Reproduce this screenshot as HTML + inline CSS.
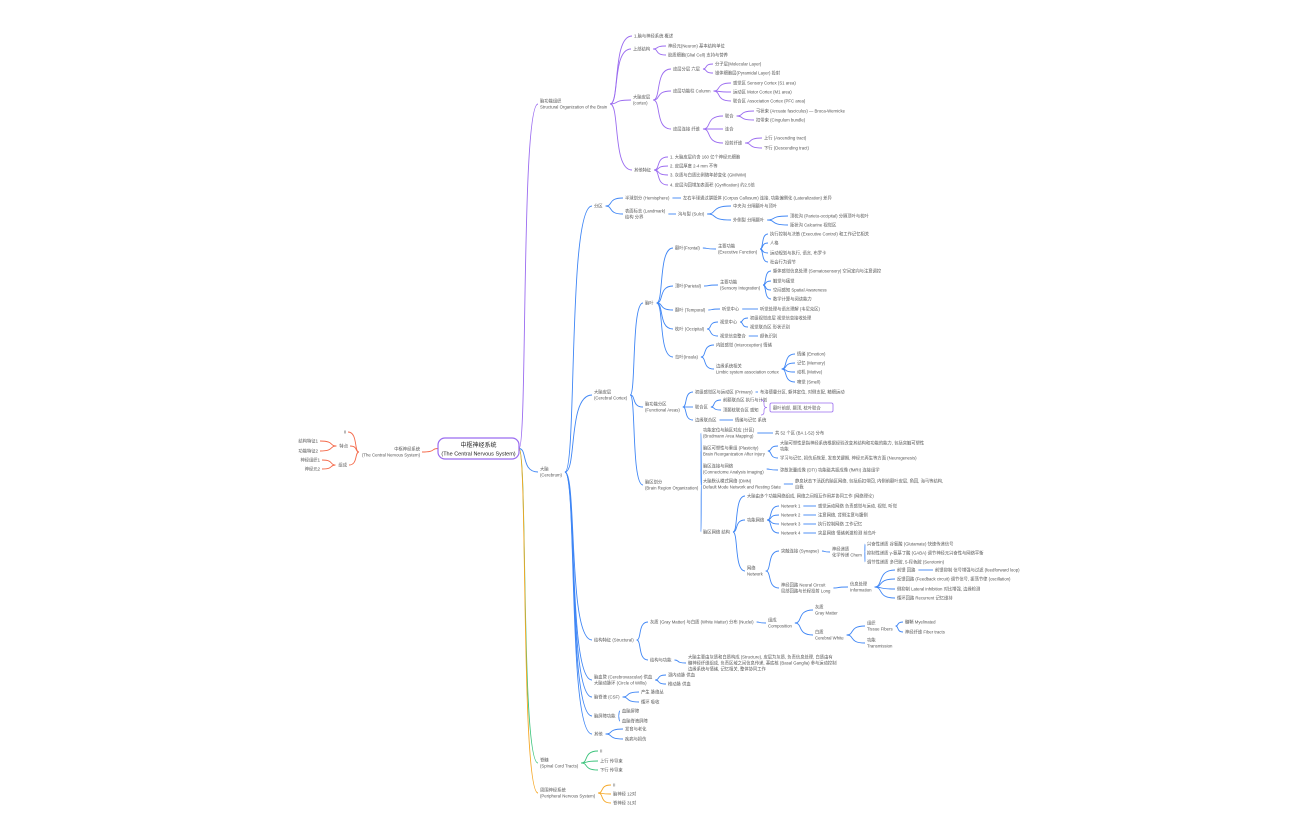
<!DOCTYPE html>
<html><head><meta charset="utf-8">
<style>
html,body{margin:0;padding:0;background:#fff;}
svg{display:block;}
text{font-family:"Liberation Sans","Noto Sans CJK SC",sans-serif;font-size:4.3px;fill:#555;}
</style></head>
<body>
<svg id="s" width="1296" height="840" viewBox="0 0 1296 840" xmlns="http://www.w3.org/2000/svg">
<g id="edges" fill="none" stroke-width="0.9"></g>
<g id="nodes"></g>
<rect x="438" y="438" width="81" height="21" rx="7" fill="#fff" stroke="#9b6cf0" stroke-width="1.2"/>
<text x="478.5" y="447" text-anchor="middle" style="font-size:6px;fill:#222">中枢神经系统</text>
<text x="478.5" y="455.5" text-anchor="middle" style="font-size:5.5px;fill:#222">(The Central Nervous System)</text>
<rect x="770" y="403" width="63" height="9" rx="1.5" fill="#fff" stroke="#9b6cf0" stroke-width="0.8"/>
<text x="773" y="409.3">额叶前部, 颞顶, 枕叶联合</text>
<path d="M761 400 q3 0 3 3 v1.5 q0 3 3 3 q-3 0 -3 3 v1.5 q0 3 -3 3" fill="none" stroke="#9b6cf0" stroke-width="0.7"/>
</svg>
<script>
const C={P:'#9b6cf0',B:'#3f86f5',R:'#f4694a',G:'#3cc47c',O:'#f5a623'};
const D=[
['p0','root',540,101,'脑功能组织|Structural Organization of the Brain','P'],
['p1','p0',634,36,'1.脑与神经系统 概述'],
['p2','p0',633,49,'上部结构'],
['p2a','p2',668,46,'神经元(Neuron) 基本结构单位'],
['p2b','p2',668,55,'胶质细胞(Glial Cell) 支持与营养'],
['p3','p0',633,97,'大脑皮层|(cortex)'],
['p3a','p3',673,69,'皮层分层 六层'],
['p3a1','p3a',715,64,'分子层(Molecular Layer)'],
['p3a2','p3a',715,73,'锥体细胞层(Pyramidal Layer) 投射'],
['p3b','p3',673,91,'皮层功能柱 Column'],
['p3b1','p3b',733,83,'感觉区 Sensory Cortex (S1 area)'],
['p3b2','p3b',733,92,'运动区 Motor Cortex (M1 area)'],
['p3b3','p3b',733,101,'联合区 Association Cortex (PFC area)'],
['p3c','p3',673,129,'皮层连接 纤维'],
['p3c1','p3c',725,116,'联合'],
['p3c11','p3c1',756,111,'弓状束 (Arcuate fasciculus) — Broca-Wernicke'],
['p3c12','p3c1',756,120,'扣带束 (Cingulum bundle)'],
['p3c2','p3c',725,129,'连合'],
['p3c3','p3c',725,143,'投射纤维'],
['p3c31','p3c3',764,138,'上行 (Ascending tract)'],
['p3c32','p3c3',764,148,'下行 (Descending tract)'],
['p4','p0',634,170,'其他特征'],
['p4a','p4',670,157,'1. 大脑皮层约含 160 亿个神经元细胞'],
['p4b','p4',670,166,'2. 皮层厚度 2-4 mm 不等'],
['p4c','p4',670,175,'3. 灰质与白质比例随年龄变化 (GM/WM)'],
['p4d','p4',670,185,'4. 皮层沟回增加表面积 (Gyrification) 约2.5倍'],
['b0','root',540,469,'大脑|(Cerebrum)','B'],
['b1','b0',594,206,'分区'],
['b1a','b1',625,198,'半球划分 (Hemisphere)'],
['b1a1','b1a',683,198,'左右半球通过胼胝体 (Corpus Callosum) 连接, 功能偏侧化 (Lateralization) 差异'],
['b1b','b1',625,211,'表面标志 (Landmark)|结构 分界'],
['b1b1','b1b',678,214,'沟与裂 (Sulci)'],
['b1b11','b1b1',733,206,'中央沟 分隔额叶与顶叶'],
['b1b12','b1b1',733,220,'外侧裂 分隔颞叶'],
['b1b121','b1b12',790,216,'顶枕沟 (Parieto-occipital) 分隔顶叶与枕叶'],
['b1b122','b1b12',790,225,'距状沟 Calcarine 视觉区'],
['b2','b0',594,392,'大脑皮层|(Cerebral Cortex)'],
['b2a','b2',645,303,'脑叶'],
['b2a1','b2a',675,248,'额叶(Frontal)'],
['b2a1a','b2a1',718,246,'主要功能|(Executive Function)'],
['b2a1a1','b2a1a',770,234,'执行控制与决策 (Executive Control) 和工作记忆相关'],
['b2a1a2','b2a1a',770,243,'人格'],
['b2a1a3','b2a1a',770,253,'运动规划与执行, 语言, 布罗卡'],
['b2a1a4','b2a1a',770,262,'社会行为调节'],
['b2a2','b2a',675,286,'顶叶(Parietal)'],
['b2a2a','b2a2',720,282,'主要功能|(Sensory Integration)'],
['b2a2a1','b2a2a',773,271,'躯体感觉信息处理 (Somatosensory) 空间定向与注意调控'],
['b2a2a2','b2a2a',773,281,'触觉与痛觉'],
['b2a2a3','b2a2a',773,290,'空间感知 Spatial Awareness'],
['b2a2a4','b2a2a',773,299,'数学计算与阅读能力'],
['b2a3','b2a',675,310,'颞叶 (Temporal)'],
['b2a3a','b2a3',722,309,'听觉中心'],
['b2a3a1','b2a3a',760,309,'听觉处理与语言理解 (韦尼克区)'],
['b2a4','b2a',675,329,'枕叶 (Occipital)'],
['b2a4a','b2a4',720,322,'视觉中心'],
['b2a4a1','b2a4a',750,318,'初级视觉皮层 视觉信息接收处理'],
['b2a4a2','b2a4a',750,327,'视觉联合区 形状识别'],
['b2a4b','b2a4',720,336,'视觉信息整合'],
['b2a4b1','b2a4b',760,336,'颜色识别'],
['b2a5','b2a',675,357,'岛叶(Insula)'],
['b2a5a','b2a5',716,345,'内脏感觉 (Interoception) 情绪'],
['b2a5b','b2a5',716,366,'边缘系统相关|Limbic system association cortex'],
['b2a5b1','b2a5b',797,354,'情绪 (Emotion)'],
['b2a5b2','b2a5b',797,363,'记忆 (Memory)'],
['b2a5b3','b2a5b',797,372,'动机 (Motive)'],
['b2a5b4','b2a5b',797,382,'嗅觉 (Smell)'],
['b2b','b2',645,404,'脑功能分区|(Functional Areas)'],
['b2b1','b2b',695,392,'初级感觉区与运动区 (Primary)'],
['b2b1a','b2b1',760,392,'布洛德曼分区, 躯体定位, 对侧支配, 精细运动'],
['b2b2','b2b',695,407,'联合区'],
['b2b2a','b2b2',723,400,'前额联合区 执行与计划'],
['b2b2b','b2b2',723,410,'顶颞枕联合区 感知'],
['b2b3','b2b',695,420,'边缘联合区'],
['b2b3a','b2b3',735,420,'情绪与记忆 系统'],
['b2c','b2',645,482,'脑区划分|(Brain Region Organization)'],
['b2c1','b2c',703,430,'功能定位与脑区对应 (分区)|(Brodmann Area Mapping)'],
['b2c1a','b2c1',775,433,'共 52 个区 (BA 1-52) 分布'],
['b2c2','b2c',703,448,'脑区可塑性与重组 (Plasticity)|Brain Reorganization After Injury'],
['b2c2a','b2c2',780,443,'大脑可塑性是指神经系统根据经验改变其结构和功能的能力, 包括突触可塑性|功能'],
['b2c2b','b2c2',780,458,'学习与记忆, 损伤后恢复, 发育关键期, 神经元再生等方面 (Neurogenesis)'],
['b2c3','b2c',703,466,'脑区连接与网络|(Connectome Analysis Imaging)'],
['b2c3a','b2c3',780,470,'弥散张量成像 (DTI) 功能磁共振成像 (fMRI) 连接组学'],
['b2c4','b2c',703,481,'大脑默认模式网络 (DMN)|Default Mode Network and Resting State'],
['b2c4a','b2c4',795,481,'静息状态下活跃的脑区网络, 包括后扣带回, 内侧前额叶皮层, 角回, 海马等结构,|自我'],
['b2c5','b2c',703,532,'脑区网络 结构'],
['b2c5a','b2c5',747,496,'大脑由多个功能网络组成, 网络之间相互作用并协同工作 (网络理论)'],
['b2c5b','b2c5',747,520,'功能网络'],
['n1','b2c5b',781,506,'Network 1'],['n1a','n1',818,506,'感觉运动网络 负责感觉与运动, 视觉, 听觉'],
['n2','b2c5b',781,515,'Network 2'],['n2a','n2',818,515,'注意网络, 背侧注意与腹侧'],
['n3','b2c5b',781,524,'Network 3'],['n3a','n3',818,524,'执行控制网络 工作记忆'],
['n4','b2c5b',781,533,'Network 4'],['n4a','n4',818,533,'突显网络 情绪刺激检测 前岛叶'],
['b2c5c','b2c5',747,568,'网络|Network'],
['b2c5c1','b2c5c',781,551,'突触连接 (Synapse)'],
['b2c5c1a','b2c5c1',832,549,'神经递质|化学传递 Chem'],
['s1','b2c5c1a',867,544,'兴奋性递质 谷氨酸 (Glutamate) 快速传递信号'],
['s2','b2c5c1a',867,553,'抑制性递质 γ-氨基丁酸 (GABA) 调节神经元兴奋性与网络平衡'],
['s3','b2c5c1a',867,562,'调节性递质 多巴胺, 5-羟色胺 (Serotonin)'],
['b2c5c2','b2c5c',781,585,'神经回路 Neural Circuit|局部回路与长程投射 Long'],
['b2c5c2a','b2c5c2',850,584,'信息处理|Information'],
['t1','b2c5c2a',897,570,'前馈 回路'],['t1a','t1',935,570,'前馈抑制 信号增强与过滤 (feedforward loop)'],
['t2','b2c5c2a',897,579,'反馈回路 (Feedback circuit) 调节信号, 振荡节律 (oscillation)'],
['t3','b2c5c2a',897,589,'侧抑制 Lateral inhibition 对比增强, 边缘检测'],
['t4','b2c5c2a',897,598,'循环回路 Recurrent 记忆维持'],
['b3','b0',594,640,'结构特征 (Structural)'],
['b3a','b3',650,622,'灰质 (Gray Matter) 与白质 (White Matter) 分布 (Nuclei)'],
['b3a1','b3a',768,620,'组成|Composition'],
['b3a11','b3a1',815,607,'灰质|Gray Matter'],
['b3a12','b3a1',815,632,'白质|Cerebral White'],
['b3a121','b3a12',867,623,'组织|Tissue Fibers'],
['w1','b3a121',905,622,'髓鞘 Myelinated'],
['w2','b3a121',905,632,'神经纤维 Fiber tracts'],
['b3a122','b3a12',867,640,'功能|Transmission'],
['b3b','b3',650,660,'结构与功能'],
['b3b1','b3b',688,657,'大脑主要由灰质和白质构成 (Structure), 皮层为灰质, 负责信息处理, 白质由有|髓神经纤维组成, 负责区域之间信息传递, 基底核 (Basal Ganglia) 参与运动控制|边缘系统与情绪, 记忆相关, 整体协同工作'],
['b4','b0',594,677,'脑血管 (Cerebrovascular) 供血|大脑动脉环 (Circle of Willis)'],
['b4a','b4',668,675,'颈内动脉 供血'],
['b4b','b4',668,684,'椎动脉 供血'],
['b5','b0',594,697,'脑脊液 (CSF)'],
['b5a','b5',641,692,'产生 脉络丛'],
['b5b','b5',641,702,'循环 吸收'],
['b6','b0',594,716,'脑屏障功能'],
['b6a','b6',622,711,'血脑屏障'],
['b6b','b6',622,721,'血脑脊液屏障'],
['b7','b0',594,734,'其他'],
['b7a','b7',625,729,'发育与老化'],
['b7b','b7',625,739,'疾病与损伤'],
['g0','root',540,760,'脊髓|(Spinal Cord Tracts)','G'],
['g1','g0',600,751,'II'],['g2','g0',600,761,'上行 传导束'],['g3','g0',600,770,'下行 传导束'],
['o0','root',540,790,'周围神经系统|(Peripheral Nervous System)','O'],
['o1','o0',613,785,'II'],['o2','o0',613,794,'脑神经 12对'],['o3','o0',613,803,'脊神经 31对'],
];
const L=[
['l0','root',420,449,'中枢神经系统|(The Central Nervous System)','R'],
['l1','l0',346,432,'II'],['l2','l0',348,446,'特点'],['l3','l0',347,465,'组成'],
['l21','l2',318,441,'结构特征1'],['l22','l2',318,451,'功能特征2'],
['l31','l3',320,460,'神经组织1'],['l32','l3',320,469,'神经元2'],
];
const NS='http://www.w3.org/2000/svg';
const ng=document.getElementById('nodes'),eg=document.getElementById('edges');
const M={root:{r:519,l:438,m:448.5,color:null}};
function mk(n,left){
  const [k,p,x,y,t,c]=n;const lines=t.split('|');
  const color=c?C[c]:M[p].color;
  let w=0;
  lines.forEach((s,i)=>{const e=document.createElementNS(NS,'text');e.setAttribute('x',x);e.setAttribute('y',y+1.5+i*6);
    if(left)e.setAttribute('text-anchor','end');e.textContent=s;ng.appendChild(e);w=Math.max(w,e.getComputedTextLength());});
  const m=y+(lines.length-1)*3;
  M[k]=left?{l:x-w-3,r:x+2,m,color}:{l:x-2,r:x+w+3,m,color};
  const P=M[p];const path=document.createElementNS(NS,'path');
  let sx,ex;if(left){sx=P.l;ex=x+2;}else{sx=P.r;ex=x-2;}
  const sy=P.m,ey=m,dx=ex-sx;
  path.setAttribute('d',`M${sx} ${sy} C${sx+dx*0.45} ${sy},${sx+dx*0.1} ${ey},${ex} ${ey}`);
  path.setAttribute('stroke',color);eg.appendChild(path);
}
D.forEach(n=>mk(n,false));L.forEach(n=>mk(n,true));
</script>
</body></html>
